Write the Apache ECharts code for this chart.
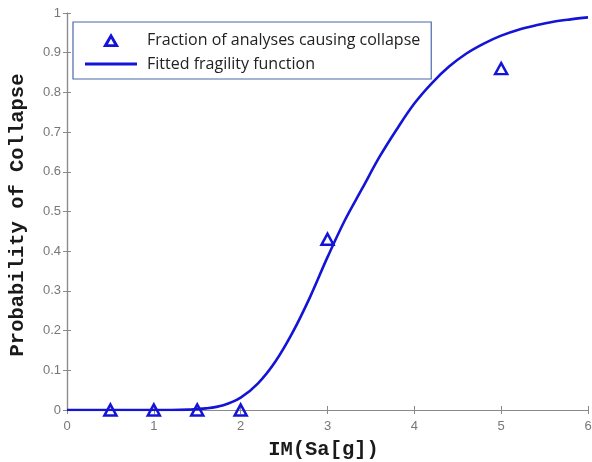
<!DOCTYPE html>
<html>
<head>
<meta charset="utf-8">
<script src="https://cdn.jsdelivr.net/npm/echarts@6/dist/echarts.min.js"></script>
<style>html,body{margin:0;padding:0;background:#fff;}#c{width:592px;height:462px;}</style>
</head>
<body>
<div id="c"></div>
<script>
var seriesNames = ['Fraction of analyses causing collapse', 'Fitted fragility function'];
var observedIM = [0.5, 1, 1.5, 2, 3, 5];
var observedFraction = [0, 0, 0, 0, 0.43, 0.86];
var fittedIM = [0, 0.2, 0.4, 0.6, 0.8, 1.0, 1.2, 1.4, 1.6, 1.8, 2.0, 2.2, 2.4, 2.6, 2.8, 3.0, 3.2, 3.4, 3.6, 3.8, 4.0, 4.2, 4.4, 4.6, 4.8, 5.0, 5.2, 5.4, 5.6, 5.8, 6.0];
var fittedProb = [0, 0, 0, 0, 0, 0, 0, 0.001, 0.004, 0.012, 0.031, 0.067, 0.122, 0.196, 0.285, 0.385, 0.478, 0.558, 0.638, 0.708, 0.772, 0.823, 0.865, 0.898, 0.923, 0.943, 0.958, 0.969, 0.978, 0.984, 0.989];
var xTicks = [0, 1, 2, 3, 4, 5, 6];
var yTicks = [0, 0.1, 0.2, 0.3, 0.4, 0.5, 0.6, 0.7, 0.8, 0.9, 1];

var BLUE = '#1414d6';
var AX = '#8a8a8a';
var chart = echarts.init(document.getElementById('c'));
function pairs(a, b) { return a.map(function (v, i) { return [v, b[i]]; }); }
var tickFmt = function (v) { return String(Math.round(v * 10) / 10); };
var common = {
  axisLine: { show: true, lineStyle: { color: AX, width: 1.2 } },
  axisTick: { show: true, inside: true, length: 4, lineStyle: { color: AX } },
  splitLine: { show: false }
};
chart.setOption({
  animation: false,
  backgroundColor: '#fff',
  grid: { left: 67, right: 4, top: 13, bottom: 52, containLabel: false, outerBoundsMode: 'none' },
  xAxis: [
    Object.assign({}, common, {
      type: 'value', min: 0, max: 6, interval: 1, position: 'bottom',
      axisLabel: { color: '#777', fontSize: 13, fontFamily: 'Liberation Sans', margin: 10, formatter: tickFmt },
      name: 'IM(Sa[g])', nameLocation: 'middle', nameGap: 29,
      nameTextStyle: { fontFamily: 'Liberation Mono', fontWeight: 'bold', fontSize: 20.5, color: '#1a1a1a', padding: [0, 8, 0, 0] }
    }),
    Object.assign({}, common, {
      type: 'value', min: 0, max: 6, interval: 1, position: 'top',
      axisLabel: { show: false }
    })
  ],
  yAxis: [
    Object.assign({}, common, {
      type: 'value', min: 0, max: 1, interval: 0.1, position: 'left',
      axisLabel: { color: '#777', fontSize: 13, fontFamily: 'Liberation Sans', margin: 6, formatter: tickFmt },
      name: 'Probability of Collapse', nameLocation: 'middle', nameGap: 39,
      nameTextStyle: { fontFamily: 'Liberation Mono', fontWeight: 'bold', fontSize: 20.5, color: '#1a1a1a', padding: [0, 7, 0, 0] }
    }),
    Object.assign({}, common, {
      type: 'value', min: 0, max: 1, interval: 0.1, position: 'right',
      axisLabel: { show: false }
    })
  ],
  legend: {
    orient: 'vertical', left: 73, top: 22,
    padding: [10, 11, 7, 12],
    itemWidth: 52, itemHeight: 14, itemGap: 8,
    symbolKeepAspect: true,
    borderColor: '#4a68a8', borderWidth: 1.2, backgroundColor: '#fff',
    textStyle: { fontFamily: 'Open Sans', fontSize: 16, color: '#222', padding: [0, 0, 0, 5] },
    data: [
      { name: seriesNames[0], icon: 'path://M7,0 L14,12 L0,12 Z M7,5 L4.4,9.6 L9.6,9.6 Z', itemStyle: { color: BLUE, borderWidth: 0 } },
      { name: seriesNames[1], icon: 'path://M0,0 L52,0 L52,3.2 L0,3.2 Z', itemStyle: { color: BLUE, borderWidth: 0 } }
    ]
  },
  series: [
    {
      name: seriesNames[1], type: 'line', smooth: 0.35, showSymbol: false, symbol: 'none',
      data: pairs(fittedIM, fittedProb),
      lineStyle: { color: BLUE, width: 2.6 }, itemStyle: { color: BLUE }, z: 2
    },
    {
      name: seriesNames[0], type: 'scatter', symbol: 'triangle', symbolSize: [12, 11],
      data: pairs(observedIM, observedFraction),
      itemStyle: { color: 'rgba(255,255,255,0)', borderColor: BLUE, borderWidth: 2.5, opacity: 1 }, z: 3
    }
  ]
});
</script>
</body>
</html>
